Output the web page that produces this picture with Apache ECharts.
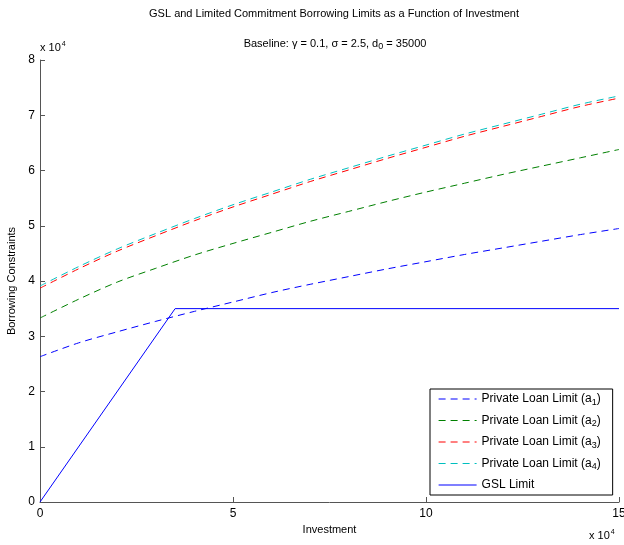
<!DOCTYPE html>
<html>
<head>
<meta charset="utf-8">
<script src="https://cdn.jsdelivr.net/npm/echarts@6/dist/echarts.min.js"></script>
<style>html,body{margin:0;padding:0;background:#fff}#c{width:624px;height:545px}</style>
</head>
<body>
<div id="c"></div>
<script>
// Investment grid (actual units)
const investment = [0,10000,20000,30000,40000,50000,60000,70000,80000,90000,100000,110000,120000,130000,140000,150000];
// Private loan limits (x 10^4)
const a1 = [2.63,2.88,3.08,3.27,3.45,3.62,3.79,3.94,4.08,4.22,4.35,4.48,4.60,4.72,4.84,4.95];
const a2 = [3.33,3.67,3.98,4.23,4.47,4.68,4.88,5.08,5.26,5.44,5.61,5.77,5.93,6.08,6.23,6.38];
const a3 = [3.87,4.22,4.54,4.82,5.09,5.34,5.57,5.80,6.01,6.22,6.42,6.62,6.80,6.98,7.16,7.31];
const a4 = [3.91,4.26,4.58,4.86,5.13,5.38,5.61,5.84,6.05,6.26,6.46,6.66,6.84,7.02,7.20,7.35];
// GSL limit
const gslX = [0,35000,150000];
const gslY = [0,35000,35000];
const seriesNames = ['Private Loan Limit (a1)','Private Loan Limit (a2)','Private Loan Limit (a3)','Private Loan Limit (a4)','GSL Limit'];
const xTicks = ['0','5','10','15'];
const yTicks = ['0','1','2','3','4','5','6','7','8'];

const FONT = 'Liberation Sans, Arial, Helvetica, sans-serif';
const pair = (xs, ys, scale) => xs.map((x,i)=>[x, ys[i]*scale]);

const chart = echarts.init(document.getElementById('c'), null, {renderer:'canvas'});
const dashed = (name, data, color) => ({
  name, type:'line', data, smooth:0.3, symbol:'none', showSymbol:false,
  lineStyle:{color, width:1, type:[7,5]}, itemStyle:{color}, z:2
});
chart.setOption({
  animation:false,
  backgroundColor:'#fff',
  textStyle:{fontFamily:FONT},
  grid:{left:40, right:5, top:60, bottom:43, containLabel:false, outerBoundsMode:'none'},
  title:[
    {text:'GSL and Limited Commitment Borrowing Limits as a Function of Investment', left:329, top:3, textAlign:'center',
     textStyle:{fontSize:11, fontWeight:'normal', color:'#000', fontFamily:FONT}},
    {text:'Baseline: γ = 0.1, σ = 2.5, d{sub|0} = 35000', left:330, top:31, textAlign:'center',
     textStyle:{fontSize:11, fontWeight:'normal', color:'#000', fontFamily:FONT,
       rich:{sub:{fontSize:9, verticalAlign:'bottom', padding:[6,0,0,0], fontFamily:FONT}}}}
  ],
  xAxis:{
    type:'value', min:0, max:150000, interval:50000,
    name:'Investment', nameLocation:'middle', nameGap:17,
    nameTextStyle:{fontSize:11, color:'#000', fontFamily:FONT},
    axisLine:{show:true, lineStyle:{color:'#555', width:1}},
    axisTick:{show:true, inside:true, length:5, lineStyle:{color:'#555'}},
    axisLabel:{fontSize:12, color:'#000', margin:6, fontFamily:FONT,
      formatter:v=>xTicks[Math.round(v/50000)]},
    splitLine:{show:false}
  },
  yAxis:{
    type:'value', min:0, max:80000, interval:10000,
    name:'Borrowing Constraints', nameLocation:'middle', nameGap:21,
    nameTextStyle:{fontSize:11, color:'#000', fontFamily:FONT},
    axisLine:{show:true, lineStyle:{color:'#555', width:1}},
    axisTick:{show:true, inside:true, length:5, lineStyle:{color:'#555'}},
    axisLabel:{fontSize:12, color:'#000', margin:5, fontFamily:FONT,
      formatter:v=>yTicks[Math.round(v/10000)]},
    splitLine:{show:false}
  },
  legend:{
    orient:'vertical', left:430, top:389,
    backgroundColor:'#fff', borderColor:'#000', borderWidth:1,
    padding:[4,12,4,8], itemWidth:38, itemHeight:14, itemGap:7.5,
    data:seriesNames,
    lineStyle:{width:1.2},
    textStyle:{fontSize:12, color:'#000', fontFamily:FONT,
      rich:{sub:{fontSize:9, verticalAlign:'bottom', padding:[7,0,0,0], fontFamily:FONT, color:'#000'}}},
    formatter:n=>n.replace(/\(a(\d)\)/, '(a{sub|$1})'),
    itemStyle:{opacity:0}
  },
  series:[
    dashed(seriesNames[0], pair(investment,a1,10000), '#0000ff'),
    dashed(seriesNames[1], pair(investment,a2,10000), '#008000'),
    dashed(seriesNames[2], pair(investment,a3,10000), '#ff0000'),
    dashed(seriesNames[3], pair(investment,a4,10000), '#00bfbf'),
    {name:seriesNames[4], type:'line', data:pair(gslX,gslY,1), symbol:'none', showSymbol:false,
     lineStyle:{color:'#0000ff', width:1}, itemStyle:{color:'#0000ff'}, z:3}
  ],
  graphic:[
    {type:'text', left:40, top:41, style:{text:'x 10{sup|4}', fontSize:11, fill:'#000', fontFamily:FONT,
      rich:{sup:{fontSize:7, verticalAlign:'top', padding:[0,0,6,1], fontFamily:FONT}}}},
    {type:'text', left:589, top:529, style:{text:'x 10{sup|4}', fontSize:11, fill:'#000', fontFamily:FONT,
      rich:{sup:{fontSize:7, verticalAlign:'top', padding:[0,0,6,1], fontFamily:FONT}}}}
  ]
});
</script>
</body>
</html>
